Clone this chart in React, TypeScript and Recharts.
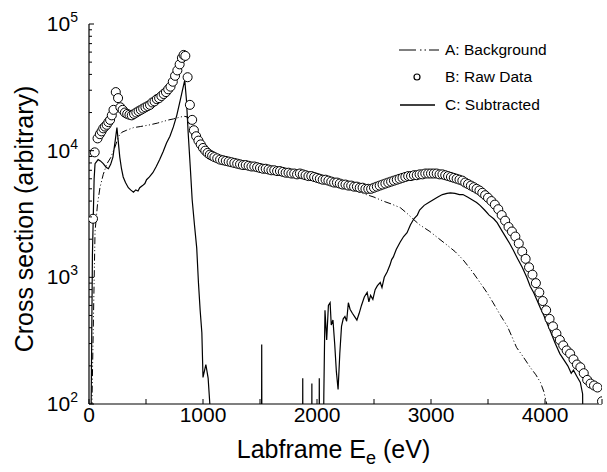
import React from 'react';
import { ComposedChart, Line, Scatter, XAxis, YAxis } from 'recharts';

// A: background (dash-dot)
const bgX = [20, 35, 53, 75, 96, 125, 158, 190, 228, 260, 290, 330, 390, 450, 535, 600, 650, 700, 740, 790, 830, 860, 880, 900, 920, 950, 980, 1000, 1050, 1100, 1200, 1300, 1400, 1500, 1600, 1700, 1800, 1900, 2000, 2100, 2200, 2300, 2400, 2500, 2580, 2650, 2730, 2790, 2840, 2900, 2990, 3060, 3140, 3210, 3280, 3350, 3430, 3490, 3545, 3610, 3670, 3710, 3750, 3810, 3870, 3920, 3960, 3990, 4015, 4030];
const bgY = [50, 300, 2300, 3800, 5100, 6500, 7900, 8800, 10700, 13000, 14000, 14500, 15200, 15500, 16000, 16500, 17000, 17500, 17800, 18300, 18700, 18500, 16000, 13500, 12000, 11000, 10300, 9900, 9200, 8700, 8100, 7700, 7400, 7100, 6800, 6600, 6400, 6200, 5900, 5600, 5300, 5000, 4600, 4300, 4000, 3800, 3550, 3200, 2900, 2600, 2300, 2050, 1800, 1600, 1380, 1150, 910, 760, 630, 500, 410, 340, 280, 235, 195, 170, 148, 125, 100, 60];

// B: raw data (circles)
const rawX = [35, 50, 75, 95, 110, 125, 140, 155, 170, 185, 200, 215, 235, 255, 275, 295, 315, 335, 355, 375, 395, 415, 435, 455, 475, 495, 515, 535, 555, 575, 595, 615, 635, 655, 675, 695, 715, 735, 755, 775, 795, 815, 830, 845, 865, 885, 905, 920, 940, 960, 980, 1000, 1020, 1040, 1060, 1080, 1100, 1125, 1150, 1175, 1200, 1225, 1250, 1275, 1300, 1325, 1350, 1375, 1400, 1425, 1450, 1475, 1500, 1525, 1550, 1575, 1600, 1625, 1650, 1675, 1700, 1725, 1750, 1775, 1800, 1825, 1850, 1875, 1900, 1925, 1950, 1975, 2000, 2025, 2050, 2075, 2100, 2125, 2150, 2175, 2200, 2225, 2250, 2275, 2300, 2325, 2350, 2375, 2400, 2425, 2450, 2475, 2500, 2525, 2550, 2575, 2600, 2625, 2650, 2675, 2700, 2725, 2750, 2775, 2800, 2825, 2850, 2875, 2900, 2925, 2950, 2975, 3000, 3025, 3050, 3075, 3100, 3125, 3150, 3175, 3200, 3225, 3250, 3275, 3300, 3325, 3350, 3375, 3400, 3425, 3450, 3475, 3500, 3530, 3560, 3590, 3620, 3650, 3680, 3710, 3740, 3770, 3800, 3830, 3860, 3890, 3920, 3950, 3980, 4010, 4040, 4070, 4100, 4130, 4160, 4190, 4220, 4250, 4280, 4310, 4340, 4370, 4400, 4430, 4460, 4500];
const rawY = [2900, 9700, 12500, 13500, 14200, 15000, 15500, 16000, 16800, 17500, 19000, 21000, 29000, 26000, 22000, 21000, 20000, 19500, 19200, 19000, 19500, 20000, 20500, 21000, 21500, 22000, 22500, 23000, 24000, 24500, 25500, 26000, 27000, 28000, 29000, 30500, 32000, 35000, 39000, 43000, 48000, 54000, 57000, 56000, 38000, 23000, 17500, 14500, 13000, 12000, 11200, 10500, 10000, 9600, 9300, 9100, 8900, 8700, 8500, 8400, 8300, 8200, 8100, 8000, 7900, 7800, 7700, 7700, 7600, 7500, 7500, 7400, 7300, 7200, 7200, 7100, 7000, 7000, 6900, 6900, 6800, 6700, 6700, 6600, 6600, 6500, 6600, 6500, 6400, 6300, 6300, 6200, 6100, 6000, 5900, 5900, 5800, 5700, 5600, 5600, 5500, 5400, 5400, 5300, 5300, 5200, 5200, 5100, 5100, 5000, 5000, 5000, 5100, 5200, 5300, 5400, 5500, 5600, 5700, 5800, 5900, 6000, 6100, 6200, 6300, 6300, 6400, 6400, 6500, 6500, 6600, 6600, 6600, 6600, 6600, 6500, 6500, 6400, 6300, 6200, 6100, 6000, 5900, 5800, 5600, 5450, 5300, 5150, 5000, 4850, 4650, 4450, 4250, 4000, 3750, 3450, 3100, 2800, 2500, 2300, 2100, 1850, 1600, 1400, 1200, 1050, 900, 760, 650, 550, 470, 410, 360, 320, 290, 265, 250, 225, 205, 195, 175, 155, 145, 140, 135, 105];

// C: subtracted (solid)
const subX = [18, 30, 45, 53, 80, 100, 125, 150, 170, 190, 210, 230, 245, 260, 270, 285, 300, 320, 345, 365, 390, 410, 430, 445, 470, 490, 505, 530, 560, 590, 620, 650, 680, 710, 740, 770, 800, 820, 840, 855, 870, 890, 905, 925, 945, 960, 975, 990, 1000, 1025, 1045, 1060, 1075, 1510, 1515, 1520, 1870, 1875, 1880, 1950, 1955, 1960, 2015, 2020, 2030, 2045, 2060, 2070, 2085, 2100, 2115, 2125, 2140, 2155, 2170, 2185, 2200, 2215, 2230, 2245, 2260, 2275, 2290, 2310, 2330, 2350, 2370, 2390, 2415, 2440, 2455, 2470, 2490, 2510, 2530, 2555, 2570, 2590, 2615, 2640, 2655, 2670, 2695, 2730, 2760, 2790, 2820, 2850, 2880, 2900, 2940, 2980, 3020, 3060, 3100, 3140, 3170, 3210, 3250, 3280, 3320, 3360, 3400, 3430, 3470, 3510, 3550, 3580, 3620, 3660, 3690, 3720, 3760, 3800, 3840, 3870, 3900, 3930, 3960, 3990, 4015, 4050, 4090, 4130, 4170, 4200, 4230, 4250, 4280, 4310, 4330, 4345];
const subY = [80, 1500, 6000, 7900, 8500, 8300, 7900, 7400, 7200, 7800, 8900, 12000, 15200, 11000, 8900, 7200, 6200, 5600, 5100, 4900, 4700, 4900, 4800, 5100, 5300, 5500, 5900, 6200, 6700, 7500, 8500, 9800, 11500, 13000, 15400, 19000, 25000, 30000, 36000, 25000, 13800, 7000, 4100, 2600, 1700, 910, 550, 365, 162, 205, 160, 100, 1, 1, 295, 1, 1, 160, 1, 1, 145, 1, 1, 160, 1, 1, 120, 550, 320, 600, 630, 420, 460, 300, 180, 130, 250, 410, 470, 490, 450, 630, 560, 520, 490, 460, 520, 600, 700, 760, 640, 720, 670, 800, 860, 910, 830, 1000, 1100, 1250, 1380, 1450, 1660, 1900, 2100, 2250, 2600, 2900, 3100, 3400, 3700, 3900, 4100, 4300, 4500, 4600, 4650, 4600, 4500, 4500, 4300, 4100, 3900, 3700, 3400, 3100, 2900, 2700, 2350, 2050, 1850, 1650, 1400, 1200, 1000, 850, 760, 660, 570, 500, 440, 370, 300, 250, 220, 200, 175, 185, 165, 148, 120, 1];

const xTicks = [0, 500, 1000, 1500, 2000, 2500, 3000, 3500, 4000, 4500];
const yMajor = [100, 1000, 10000, 100000];
const yMinor = [200, 300, 400, 500, 600, 700, 800, 900, 2000, 3000, 4000, 5000, 6000, 7000, 8000, 9000, 20000, 30000, 40000, 50000, 60000, 70000, 80000, 90000];

const bgData = bgX.map((x, i) => ({ x, y: bgY[i] }));
const rawData = rawX.map((x, i) => ({ x, y: rawY[i] }));
const subData = subX.map((x, i) => ({ x, y: subY[i] }));
const yTicks = [...yMajor, ...yMinor].sort((a, b) => a - b);

const FONT = '"Liberation Sans", Arial, Helvetica, sans-serif';
const DASHDOT = '7 2.5 1 2.5 1 2.5';

const BottomTick = (props: any) => {
  const { x, y, payload } = props;
  const v = payload.value;
  const showLabel = v % 1000 === 0;
  return (
    <g>
      <line x1={x} x2={x} y1={y} y2={y - 5} stroke="#000" strokeWidth={1} />
      {showLabel && (
        <text x={x} y={y + 18} textAnchor="middle" fontSize={21} fontFamily={FONT} fill="#000">
          {v}
        </text>
      )}
    </g>
  );
};

const TopTick = (props: any) => {
  const { x, y } = props;
  return <line x1={x} x2={x} y1={y} y2={y + 5} stroke="#000" strokeWidth={1} />;
};

const LeftTick = (props: any) => {
  const { x, y, payload } = props;
  const v = payload.value;
  const major = yMajor.includes(v);
  const ax = x + 11;
  return (
    <g>
      <line x1={ax} x2={ax + (major ? 5 : 3)} y1={y} y2={y} stroke="#000" strokeWidth={1} />
      {major && (
        <text x={x} y={y + 7} textAnchor="end" fontSize={21} fontFamily={FONT} fill="#000">
          10
          <tspan dy={-9} fontSize={14}>{Math.round(Math.log10(v))}</tspan>
        </text>
      )}
    </g>
  );
};

const RightTick = (props: any) => {
  const { x, y, payload } = props;
  const major = yMajor.includes(payload.value);
  return <line x1={x} x2={x - (major ? 5 : 3)} y1={y} y2={y} stroke="#000" strokeWidth={1} />;
};

const YTitle = (props: any) => {
  const { viewBox } = props;
  const cx = viewBox.x + 24;
  const cy = viewBox.y + viewBox.height / 2 + 5;
  return (
    <text
      x={cx}
      y={cy}
      transform={`rotate(-90, ${cx}, ${cy})`}
      textAnchor="middle"
      dominantBaseline="central"
      fontSize={25}
      fontFamily={FONT}
      fill="#000"
    >
      Cross section (arbitrary)
    </text>
  );
};

const XTitle = (props: any) => {
  const { viewBox } = props;
  const cx = viewBox.x + viewBox.width / 2 - 12;
  return (
    <text x={cx} y={viewBox.y + 54} textAnchor="middle" fontSize={25} fontFamily={FONT} fill="#000">
      Labframe E
      <tspan dy={6} fontSize={18}>e</tspan>
      <tspan dy={-6}> (eV)</tspan>
    </text>
  );
};

const LegendBox = () => (
  <g fontFamily={FONT} fontSize={15.5} fill="#000">
    <line x1={399} x2={439} y1={50} y2={50} stroke="#000" strokeWidth={1} strokeDasharray="17 4 1.5 3 1.5 3 10" />
    <text x={445} y={55}>A: Background</text>
    <circle cx={417} cy={77} r={3} fill="#fff" stroke="#000" strokeWidth={1.2} />
    <text x={445} y={82}>B: Raw Data</text>
    <line x1={400} x2={435} y1={105} y2={105} stroke="#000" strokeWidth={1.3} />
    <text x={445} y={110}>C: Subtracted</text>
  </g>
);

export default function App() {
  return (
    <div style={{ position: 'absolute', left: 0, top: 0, width: 607, height: 472, background: '#fff' }}>
      <ComposedChart width={607} height={472} margin={{ top: 24, right: 5, bottom: 0, left: 0 }}>
        <XAxis
          dataKey="x"
          type="number"
          domain={[0, 4500]}
          ticks={xTicks}
          allowDataOverflow
          height={68}
          tickLine={false}
          tickSize={0}
          tickMargin={0}
          tick={<BottomTick />}
          interval={0}
          axisLine={{ stroke: '#000', strokeWidth: 1.2 }}
          label={<XTitle />}
        />
        <XAxis
          xAxisId="top"
          orientation="top"
          type="number"
          domain={[0, 4500]}
          ticks={xTicks}
          allowDataOverflow
          height={0}
          tickLine={false}
          tickSize={0}
          tickMargin={0}
          tick={<TopTick />}
          interval={0}
          axisLine={{ stroke: '#000', strokeWidth: 1.2 }}
        />
        <YAxis
          dataKey="y"
          scale="log"
          type="number"
          domain={[100, 100000]}
          ticks={yTicks}
          allowDataOverflow
          width={89}
          tickLine={false}
          tickSize={0}
          tickMargin={11}
          tick={<LeftTick />}
          interval={0}
          axisLine={{ stroke: '#000', strokeWidth: 1.2 }}
          label={<YTitle />}
        />
        <YAxis
          yAxisId="right"
          orientation="right"
          scale="log"
          type="number"
          domain={[100, 100000]}
          ticks={yTicks}
          allowDataOverflow
          width={0}
          tickLine={false}
          tickSize={0}
          tickMargin={0}
          tick={<RightTick />}
          interval={0}
          axisLine={{ stroke: '#000', strokeWidth: 1.2 }}
        />
        <Line
          data={bgData}
          dataKey="y"
          stroke="#000"
          strokeWidth={1}
          strokeDasharray={DASHDOT}
          dot={false}
          activeDot={false}
          isAnimationActive={false}
        />
        <Line
          data={subData}
          dataKey="y"
          stroke="#000"
          strokeWidth={1.2}
          dot={false}
          activeDot={false}
          isAnimationActive={false}
        />
        <Scatter
          data={rawData}
          dataKey="y"
          fill="#fff"
          stroke="#000"
          strokeWidth={1}
          isAnimationActive={false}
        />
        <LegendBox />
      </ComposedChart>
    </div>
  );
}
